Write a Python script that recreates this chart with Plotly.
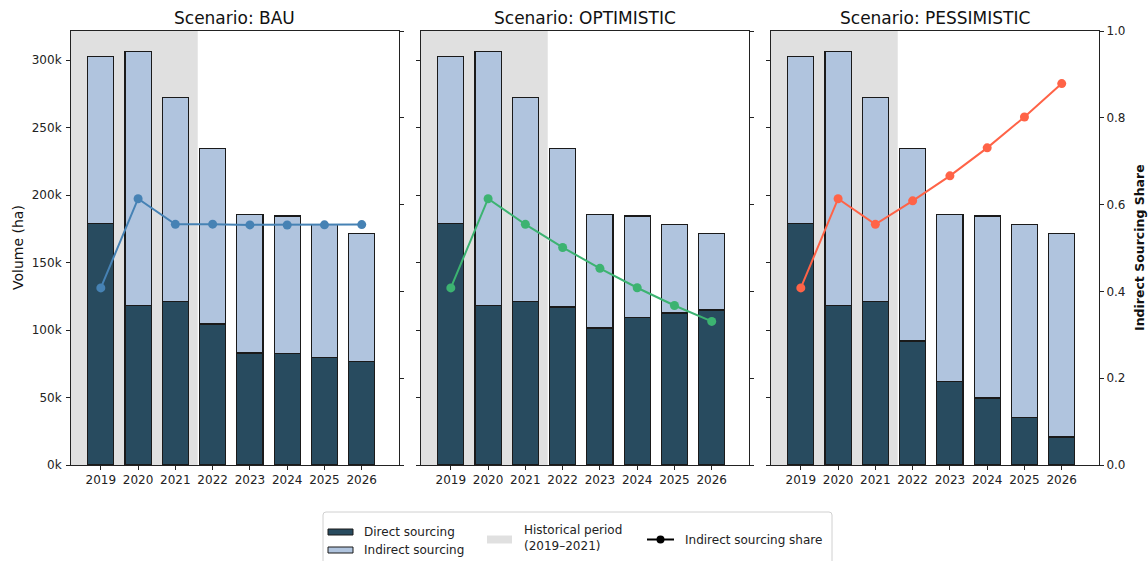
import plotly.graph_objects as go

# Sourcing volumes (ha) per scenario, 2019-2026
years = [2019, 2020, 2021, 2022, 2023, 2024, 2025, 2026]
scenarios = ["BAU", "OPTIMISTIC", "PESSIMISTIC"]

direct_bau = [179200, 118400, 121300, 104500, 83000, 82500, 79600, 76600]
indirect_bau = [123500, 188000, 151000, 130300, 102800, 102100, 98600, 95100]

direct_opt = [179200, 118400, 121300, 117100, 101600, 109200, 112700, 114900]
indirect_opt = [123500, 188000, 151000, 117700, 84200, 75400, 65500, 56800]

direct_pes = [179200, 118400, 121300, 91900, 62000, 49700, 35300, 20800]
indirect_pes = [123500, 188000, 151000, 142900, 123800, 134900, 142900, 150900]

vol_ticks = [0, 50000, 100000, 150000, 200000, 250000, 300000]
vol_ticktext = ["0k", "50k", "100k", "150k", "200k", "250k", "300k"]
share_ticks = [0.0, 0.2, 0.4, 0.6, 0.8, 1.0]

data = {
    "BAU": (direct_bau, indirect_bau),
    "OPTIMISTIC": (direct_opt, indirect_opt),
    "PESSIMISTIC": (direct_pes, indirect_pes),
}
line_colors = {"BAU": "#4682b4", "OPTIMISTIC": "#3cb371", "PESSIMISTIC": "#ff6347"}

DIRECT_C = "#284b5f"
INDIRECT_C = "#b0c4de"
HIST_C = "#e0e0e0"
EDGE = "#1a1a1a"
FONT = "DejaVu Sans"

W, H = 1148, 561


def px(x):
    return x / W


def py(y):
    return 1 - y / H


panels = [(71, 399), (421, 749), (771, 1099)]
y_top, y_bot = 31, 465
x_lo, x_hi = 2018.2, 2027.0
hist_end = 2021.6

fig = go.Figure()
layout = dict(
    width=W, height=H,
    margin=dict(l=0, r=0, t=0, b=0, pad=0, autoexpand=False),
    paper_bgcolor="white", plot_bgcolor="white",
    showlegend=False, barmode="stack",
    font=dict(family=FONT, size=12, color="#222"),
)

shapes = []
annotations = []

for i, sc in enumerate(scenarios):
    n = i + 1
    xa = "x" if n == 1 else f"x{n}"
    ya = "y" if n == 1 else f"y{n}"
    ya2 = f"y{n + 3}"
    direct, indirect = data[sc]
    share = [ind / (d + ind) for d, ind in zip(direct, indirect)]

    fig.add_trace(go.Bar(
        x=years, y=direct, width=0.7, xaxis=xa, yaxis=ya,
        marker=dict(color=DIRECT_C, line=dict(color=EDGE, width=1.2)),
        name="Direct sourcing",
    ))
    fig.add_trace(go.Bar(
        x=years, y=indirect, width=0.7, xaxis=xa, yaxis=ya,
        marker=dict(color=INDIRECT_C, line=dict(color=EDGE, width=1.2)),
        name="Indirect sourcing",
    ))
    fig.add_trace(go.Scatter(
        x=years, y=share, xaxis=xa, yaxis=ya2, mode="lines+markers",
        line=dict(color=line_colors[sc], width=2),
        marker=dict(color=line_colors[sc], size=9),
        name="Indirect sourcing share",
    ))

    x0, x1 = panels[i]
    dom_x = [px(x0), px(x1)]
    dom_y = [py(y_bot), py(y_top)]

    layout["xaxis" if n == 1 else f"xaxis{n}"] = dict(
        domain=dom_x, anchor=ya, range=[x_lo, x_hi], automargin=False,
        tickvals=years, ticktext=[str(y) for y in years],
        ticks="outside", ticklen=4, tickcolor="#222",
        showline=True, mirror=True, linecolor="#222", linewidth=1,
        showgrid=False, zeroline=False,
        tickfont=dict(size=12, family=FONT, color="#222"),
    )
    ycfg = dict(
        domain=dom_y, anchor=xa, range=[0, 321700], automargin=False,
        tickvals=vol_ticks, ticktext=vol_ticktext,
        ticks="outside", ticklen=4, tickcolor="#222", ticklabelstandoff=2,
        showline=True, linecolor="#222", linewidth=1,
        showgrid=False, zeroline=False,
        showticklabels=(n == 1),
        tickfont=dict(size=12, family=FONT, color="#222"),
    )
    if n > 1:
        ycfg["matches"] = "y"
    layout["yaxis" if n == 1 else f"yaxis{n}"] = ycfg

    layout[f"yaxis{n + 3}"] = dict(
        overlaying=ya, anchor=xa, side="right", range=[0, 1], automargin=False,
        tickvals=share_ticks, tickformat=".1f",
        ticks="outside", ticklen=4, tickcolor="#222",
        showline=True, linecolor="#222", linewidth=1,
        showgrid=False, zeroline=False,
        showticklabels=(n == 3),
        tickfont=dict(size=12, family=FONT, color="#222"),
    )

    # historical period shading
    shapes.append(dict(
        type="rect", xref=xa, yref=f"{ya} domain",
        x0=x_lo, x1=hist_end, y0=0, y1=1,
        fillcolor=HIST_C, line=dict(width=0), layer="below",
    ))

    annotations.append(dict(
        text=f"Scenario: {sc}", xref="paper", yref="paper",
        x=(dom_x[0] + dom_x[1]) / 2, y=py(18),
        xanchor="center", yanchor="middle", showarrow=False,
        font=dict(size=17, family=FONT, color="#111"),
    ))

# axis titles
annotations.append(dict(
    text="Volume (ha)", xref="paper", yref="paper",
    x=px(18), y=py(248), textangle=-90, showarrow=False,
    xanchor="center", yanchor="middle",
    font=dict(size=14, family=FONT, color="#111"),
))
annotations.append(dict(
    text="<b>Indirect Sourcing Share</b>", xref="paper", yref="paper",
    x=px(1139), y=py(248), textangle=-90, showarrow=False,
    xanchor="center", yanchor="middle",
    font=dict(size=12.5, family=FONT, color="#111"),
))

# legend box
lx0, lx1, ly0, ly1, r = 323, 832, 512, 575, 3
path = (
    f"M {px(lx0 + r)},{py(ly0)} L {px(lx1 - r)},{py(ly0)} "
    f"Q {px(lx1)},{py(ly0)} {px(lx1)},{py(ly0 + r)} "
    f"L {px(lx1)},{py(ly1)} L {px(lx0)},{py(ly1)} "
    f"L {px(lx0)},{py(ly0 + r)} Q {px(lx0)},{py(ly0)} {px(lx0 + r)},{py(ly0)} Z"
)
shapes.append(dict(type="path", xref="paper", yref="paper", path=path,
                   fillcolor="white", line=dict(color="#d0d0d0", width=1)))


def patch(x0, x1, y0, y1, fill, edge):
    shapes.append(dict(
        type="rect", xref="paper", yref="paper",
        x0=px(x0), x1=px(x1), y0=py(y1), y1=py(y0),
        fillcolor=fill,
        line=dict(color=edge, width=1) if edge else dict(width=0),
    ))


def label(text, x, y):
    annotations.append(dict(
        text=text, xref="paper", yref="paper", x=px(x), y=py(y),
        xanchor="left", yanchor="middle", showarrow=False, align="left",
        font=dict(size=12, family=FONT, color="#222"),
    ))


patch(328, 353, 529, 535, DIRECT_C, EDGE)
label("Direct sourcing", 362, 532)
patch(328, 353, 547, 553, INDIRECT_C, EDGE)
label("Indirect sourcing", 362, 550)
patch(487, 512, 535.5, 543.5, HIST_C, None)
label("Historical period<br>(2019–2021)", 522, 538)
shapes.append(dict(type="line", xref="paper", yref="paper",
                   x0=px(647), x1=px(674), y0=py(539.5), y1=py(539.5),
                   line=dict(color="black", width=2)))
shapes.append(dict(type="circle", xref="paper", yref="paper",
                   x0=px(656.5), x1=px(664.5), y0=py(543.5), y1=py(535.5),
                   fillcolor="black", line=dict(color="black", width=0)))
label("Indirect sourcing share", 683, 539.5)

layout["shapes"] = shapes
layout["annotations"] = annotations
fig.update_layout(**layout)

fig.write_html("out.html")
